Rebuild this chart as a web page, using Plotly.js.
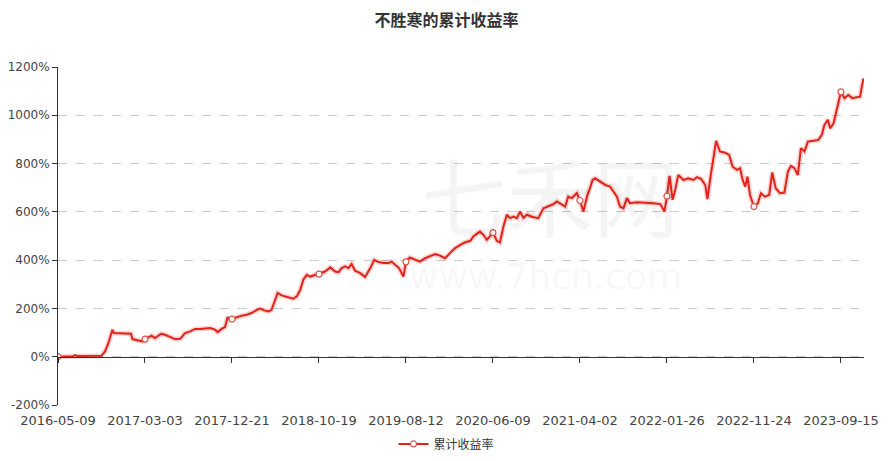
<!DOCTYPE html>
<html>
<head>
<meta charset="utf-8">
<script src="https://cdn.plot.ly/plotly-3.0.1.min.js"></script>
<style>html,body{margin:0;padding:0;background:#fff;}#chart{width:893px;height:461px;}</style>
</head>
<body>
<div id="chart"></div>
<script>
// trading-day index (category position) and cumulative return (%)
const dayIndex = [0,35,39,44,100,108,116,121,125,128,168,171,185,194,200,208,215,223,231,237,246,258,269,281,292,304,315,327,338,350,361,367,376,384,390,396,400,411,422,434,445,457,465,474,484,491,499,505,514,530,541,549,557,564,572,580,587,600,614,626,637,645,652,660,668,675,683,695,706,718,727,737,748,760,767,775,784,794,800,809,821,832,844,855,867,878,890,901,913,925,936,948,955,970,978,986,993,1000,1009,1016,1024,1032,1039,1047,1055,1062,1070,1078,1089,1104,1116,1127,1139,1147,1154,1166,1173,1181,1193,1200,1208,1216,1223,1229,1235,1246,1258,1269,1277,1285,1292,1300,1308,1315,1331,1354,1369,1385,1394,1400,1406,1413,1419,1426,1438,1449,1461,1469,1478,1488,1493,1499,1507,1513,1522,1534,1543,1551,1561,1568,1574,1580,1585,1591,1600,1609,1616,1625,1635,1642,1650,1660,1670,1678,1685,1693,1701,1708,1716,1724,1737,1748,1756,1762,1770,1775,1783,1791,1796,1800,1808,1817,1826,1836,1844,1848,1852];
const returnPct = [0,2,7,3,4,22,57,91,112,98,95,73,67,63,73,80,87,77,88,95,91,80,73,74,98,105,115,115,117,119,112,102,115,123,164,153,156,164,170,174,181,194,199,192,188,194,236,264,254,245,240,250,277,319,339,332,336,342,353,370,353,350,367,374,367,384,356,346,330,367,401,392,388,388,394,381,367,332,393,411,401,394,408,415,425,419,408,429,450,463,474,480,498,518,505,484,498,514,480,473,539,588,574,580,574,601,576,588,580,574,615,622,632,643,636,622,663,657,677,647,601,663,698,732,739,725,712,705,684,663,622,615,657,636,640,639,636,632,601,665,749,650,691,753,732,739,732,744,737,712,653,732,829,894,850,845,836,787,774,781,732,705,746,670,622,636,677,663,670,763,698,677,680,767,790,781,753,864,850,891,895,898,919,960,981,946,967,1022,1066,1097,1071,1084,1071,1075,1077,1119,1153];
const tickIndex = [0,200,400,600,800,1000,1200,1400,1600,1800];
const tickLabels = ['2016-05-09','2017-03-03','2017-12-21','2018-10-19','2019-08-12','2020-06-09','2021-04-02','2022-01-26','2022-11-24','2023-09-15'];
const yTicks = [-200,0,200,400,600,800,1000,1200];

const markerPts = dayIndex.map((d,i)=>tickIndex.includes(d)?i:-1).filter(i=>i>=0);
const xRange = [0, 1853];

const traces = [
  {x: dayIndex, y: returnPct, type:'scatter', mode:'lines', hoverinfo:'skip',
   line:{color:'rgba(230,35,25,0.2)', width:5}, showlegend:false},
  {x: dayIndex, y: returnPct, type:'scatter', mode:'lines+markers', name:'累计收益率',
   line:{color:'#e3231b', width:2},
   marker:{symbol:'circle', size:6, color:'#ffffff', line:{color:'#d9534c', width:1.2}},
   selectedpoints: markerPts,
   selected:{marker:{opacity:1}}, unselected:{marker:{opacity:0}}}
];

const layout = {
  width:893, height:461,
  paper_bgcolor:'#fff', plot_bgcolor:'rgba(0,0,0,0)',
  margin:{l:58, r:29, t:67, b:56},
  title:{text:'不胜寒的累计收益率', x:0.5, xanchor:'center', y:0.955, yanchor:'middle',
         font:{family:'"Noto Sans CJK SC", sans-serif', size:16, color:'#333', weight:'bold'}},
  font:{family:'"DejaVu Sans", Verdana, sans-serif', size:12, color:'#555'},
  showlegend:true,
  legend:{orientation:'h', x:0.5, xanchor:'center', xref:'container', y:0.037, yanchor:'middle', yref:'container',
          font:{family:'"Noto Sans CJK SC", sans-serif', size:12, color:'#333'}, bgcolor:'rgba(0,0,0,0)'},
  xaxis:{range:xRange, tickmode:'array', tickvals:tickIndex, ticktext:tickLabels,
         showgrid:false, zeroline:false, showline:false, ticks:'', ticklabelstandoff:6,
         tickfont:{family:'"DejaVu Sans", Verdana, sans-serif', size:13, color:'#444'}, fixedrange:true},
  xaxis2:{range:xRange, overlaying:'x', anchor:'free', position:200/1400, tickmode:'array', tickvals:tickIndex,
          showticklabels:false, showgrid:false, zeroline:false, showline:true, linecolor:'#333', linewidth:1,
          ticks:'outside', ticklen:5, tickcolor:'#333'},
  yaxis:{range:[-200,1200], tickmode:'array', tickvals:yTicks, ticktext:yTicks.map(v=>v+'%'),
         showgrid:true, gridcolor:'#cccccc', griddash:'dash', gridwidth:1, zeroline:false,
         showline:true, linecolor:'#333', linewidth:1, ticks:'outside', ticklen:5, tickcolor:'#333',
         tickfont:{family:'"DejaVu Sans", Verdana, sans-serif', size:12, color:'#444'}},
  annotations:[
    {text:'七禾网', xref:'paper', yref:'paper', x:0.61, y:0.625, showarrow:false,
     font:{family:'"Noto Sans CJK SC", sans-serif', size:86, color:'rgba(0,0,0,0.045)'}},
    {text:'www.7hcn.com', xref:'paper', yref:'paper', x:0.605, y:0.315, showarrow:false,
     font:{family:'"DejaVu Sans", sans-serif', size:36, color:'rgba(0,0,0,0.045)'}}
  ]
};
traces.push({x:[0], y:[0], xaxis:'x2', type:'scatter', mode:'markers', marker:{opacity:0}, showlegend:false, hoverinfo:'skip'});
Plotly.newPlot('chart', traces, layout, {displayModeBar:false, staticPlot:true});
</script>
</body>
</html>
